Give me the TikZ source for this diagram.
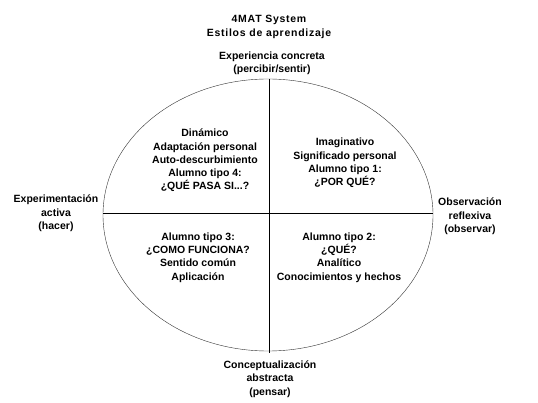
\documentclass[tikz,border=0pt]{standalone}
\usepackage{fontspec}
\setmainfont{Liberation Sans}
\usepackage{tikz}

\tikzset{
  lbl/.style={align=center, font=\fontsize{10.5}{13.3}\selectfont\bfseries, inner sep=0pt},
  heading/.style={lbl, font=\fontsize{10.5}{13.3}\selectfont\bfseries\addfontfeatures{LetterSpace=7}},
}

\begin{document}
\begin{tikzpicture}[x=1pt,y=-1pt]

\useasboundingbox [fill=white] (0,0) rectangle (538,403);

% the circle and its axes
\draw [thin, black!80] (268,215) ellipse [x radius=165, y radius=136];
\coordinate (top) at (269,79);
\coordinate (bottom) at (269,353);
\coordinate (left) at (103,213);
\coordinate (right) at (433,213);
\draw (top) -- (bottom);
\draw (left) -- (right);

% title
\node [heading] (title) at (269,27) {4MAT System\\Estilos de aprendizaje};

% the four poles
\node [lbl] (concreta) at (272,63.5) {Experiencia concreta\\(percibir/sentir)};
\node [lbl] (activa) at (56,213.5) {Experimentación\\activa\\(hacer)};
\node [lbl] (reflexiva) at (470,216.5) {Observación\\reflexiva\\(observar)};
\node [lbl] (abstracta) at (270,379) {Conceptualización\\abstracta\\(pensar)};

% the four quadrants
\node [lbl] (tipo4) at (205,160.5) {Dinámico\\Adaptación personal\\Auto-descurbimiento\\Alumno tipo 4:\\¿QUÉ PASA SI...?};
\node [lbl] (tipo1) at (345,163) {Imaginativo\\Significado personal\\Alumno tipo 1:\\¿POR QUÉ?};
\node [lbl] (tipo3) at (198,257.5) {Alumno tipo 3:\\¿COMO FUNCIONA?\\Sentido común\\Aplicación};
\node [lbl] (tipo2) at (339,257.5) {Alumno tipo 2:\\¿QUÉ?\\Analítico\\Conocimientos y hechos};

\end{tikzpicture}
\end{document}
